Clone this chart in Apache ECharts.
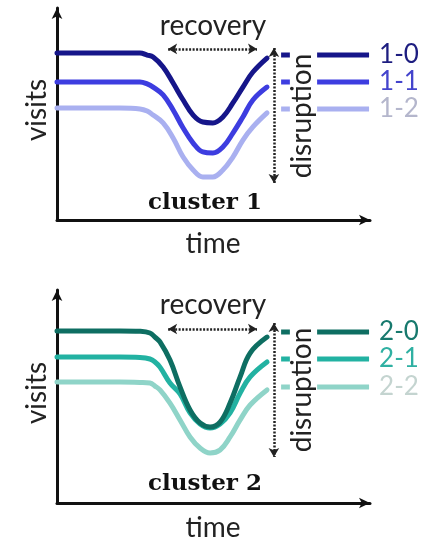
<!DOCTYPE html>
<html>
<head>
<meta charset="utf-8">
<script src="https://cdn.jsdelivr.net/npm/echarts@6/dist/echarts.min.js"></script>
<style>
html,body{margin:0;padding:0;background:#fff;}
#c{width:424px;height:543px;}
</style>
</head>
<body>
<div id="c"></div>
<script>
// ---- data (time and visits in arbitrary units, 0-100) ----
const times1 = [0, 20.1, 26.5, 28.8, 30.7, 33.9, 37.1, 40.3, 43.5, 46.6, 49.8, 53.0, 56.2, 59.4, 62.6, 67.1];
const cluster1Names = ['1-0', '1-1', '1-2'];
const visits1_0 = [78.8, 78.8, 78.8, 77.8, 76.9, 72.2, 64.6, 56.6, 49.5, 46.2, 45.8, 48.6, 55.2, 62.7, 69.8, 76.4];
const visits1_1 = [65.1, 65.1, 65.1, 64.2, 62.7, 59.0, 51.9, 43.4, 36.3, 32.1, 31.6, 34.4, 41.0, 48.6, 56.6, 62.7];
const visits1_2 = [52.8, 52.8, 52.4, 51.4, 49.5, 45.8, 38.7, 29.7, 23.6, 20.3, 20.3, 23.6, 29.7, 37.7, 43.9, 50.5];
const keyLevels1 = [77.8, 65.1, 52.4];

const times2 = [0, 20.1, 26.5, 29.7, 31.3, 32.9, 36.1, 39.3, 42.5, 45.7, 48.9, 52.1, 55.3, 58.5, 61.7, 67.1];
const cluster2Names = ['2-0', '2-1', '2-2'];
const visits2_0 = [80.8, 80.8, 80.6, 79.8, 77.9, 75.6, 67.1, 54.5, 43.7, 37.6, 35.7, 38.0, 46.9, 59.2, 70.4, 77.9];
const visits2_1 = [68.5, 68.5, 68.3, 67.6, 66.2, 63.8, 56.3, 51.2, 42.3, 37.1, 35.2, 37.1, 42.3, 51.6, 59.2, 66.2];
const visits2_2 = [56.8, 56.8, 56.6, 56.3, 54.9, 53.1, 46.9, 39.0, 31.0, 25.8, 23.5, 24.9, 31.0, 39.0, 46.0, 53.1];
const keyLevels2 = [80.3, 67.6, 54.5];

const dashTimes = [71.6, 74.4];
const keyTimes = [83.1, 99.7];

const recoveryTimes = [35.5, 63.9];
const recoveryLevels = [80.7, 81.7];
const disruptionTime = 69.3;
const disruptionLevels1 = [81.1, 17.5];
const disruptionLevels2 = [84.5, 21.6];

// ---- styles ----
const colors1 = ['#16168a', '#3d3de0', '#a9b0f0'];
const labelColors1 = ['#1d1d80', '#4444cc', '#b4b6cc'];
const colors2 = ['#0e6e62', '#22b2a2', '#8fd4c8'];
const labelColors2 = ['#17796d', '#2fb0a2', '#c4d4d0'];

const chart = echarts.init(document.getElementById('c'), null, {renderer: 'canvas'});

function axisLineCfg() {
  return {
    show: true, onZero: false,
    symbol: ['none', 'arrow'],
    symbolSize: [8, 11],
    lineStyle: {color: '#111', width: 3}
  };
}
function ax(g) {
  return {type: 'value', gridIndex: g, min: 0, max: 100,
    axisLine: axisLineCfg(), axisTick: {show: false}, axisLabel: {show: false}, splitLine: {show: false}};
}

const series = [];
function addCluster(g, times, names, valueSets, levels, colors, labelColors, recY, disLevels) {
  for (let i = valueSets.length - 1; i >= 0; i--) {
    series.push({
      type: 'line', xAxisIndex: g, yAxisIndex: g, name: names[i],
      smooth: 0.4, symbol: 'none', silent: true,
      lineStyle: {color: colors[i], width: 5, cap: 'round'},
      data: times.map((t, k) => [t, valueSets[i][k]])
    });
    series.push({
      type: 'line', xAxisIndex: g, yAxisIndex: g, name: names[i] + ' dash',
      symbol: 'none', silent: true,
      lineStyle: {color: colors[i], width: 5},
      data: dashTimes.map(t => [t, levels[i]])
    });
    series.push({
      type: 'line', xAxisIndex: g, yAxisIndex: g, name: names[i],
      symbol: 'none', silent: true,
      lineStyle: {color: colors[i], width: 5},
      endLabel: {show: true, formatter: '{a}', color: labelColors[i], fontSize: 26,
        fontFamily: 'Lato', distance: 10},
      data: keyTimes.map(t => [t, levels[i]])
    });
  }
  series.push({
    type: 'line', xAxisIndex: g, yAxisIndex: g, data: [], silent: true,
    markLine: {
      silent: true, symbol: ['arrow', 'arrow'], symbolSize: [8, 9],
      label: {show: false},
      lineStyle: {color: '#222', width: 2.5, type: [2, 1.5]},
      data: [
        [{coord: [recoveryTimes[0], recY]}, {coord: [recoveryTimes[1], recY]}],
        [{coord: [disruptionTime, disLevels[0]]}, {coord: [disruptionTime, disLevels[1]]}]
      ]
    }
  });
}
addCluster(0, times1, cluster1Names, [visits1_0, visits1_1, visits1_2], keyLevels1, colors1, labelColors1, recoveryLevels[0], disruptionLevels1);
addCluster(1, times2, cluster2Names, [visits2_0, visits2_1, visits2_2], keyLevels2, colors2, labelColors2, recoveryLevels[1], disruptionLevels2);

const sans = 'Lato';
function txt(text, x, y, opts) {
  return Object.assign({
    type: 'text', x: x, y: y, silent: true,
    style: Object.assign({text: text, fill: '#222', font: '28px ' + sans, align: 'center', verticalAlign: 'middle'}, opts && opts.style || {})
  }, opts && opts.el || {});
}

chart.setOption({
  animation: false,
  backgroundColor: '#fff',
  grid: [
    {left: 57, width: 313, top: 8, height: 212},
    {left: 57, width: 313, top: 290, height: 213}
  ],
  xAxis: [ax(0), ax(1)],
  yAxis: [ax(0), ax(1)],
  series: series,
  graphic: [
    txt('recovery', 213, 26),
    txt('visits', 37, 110, {el: {rotation: Math.PI / 2}}),
    txt('time', 213, 244),
    txt('disruption', 302, 116, {el: {rotation: Math.PI / 2}}),
    txt('cluster 1', 205, 203, {style: {font: 'bold 23px "DejaVu Serif"', fill: '#111'}}),
    txt('recovery', 213, 305),
    txt('visits', 37, 393, {el: {rotation: Math.PI / 2}}),
    txt('time', 213, 528),
    txt('disruption', 302, 390, {el: {rotation: Math.PI / 2}}),
    txt('cluster 2', 205, 484, {style: {font: 'bold 23px "DejaVu Serif"', fill: '#111'}})
  ]
});
</script>
</body>
</html>
